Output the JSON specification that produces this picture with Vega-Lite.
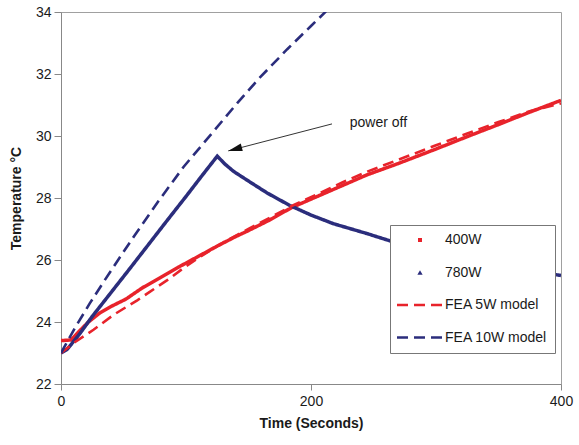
{
  "$schema": "https://vega.github.io/schema/vega-lite/v6.json",
  "width": 500,
  "height": 372,
  "autosize": {"type": "none"},
  "padding": {"left": 61, "top": 12, "right": 18, "bottom": 61},
  "background": "white",
  "config": {
    "font": "Liberation Sans",
    "view": {"stroke": "#a0a0a0", "strokeWidth": 1},
    "axis": {
      "grid": false,
      "domainColor": "#888888",
      "tickColor": "#888888",
      "labelFont": "Liberation Sans",
      "labelFontSize": 14,
      "labelColor": "#1a1a1a",
      "titleFont": "Liberation Sans",
      "titleFontSize": 14,
      "titleFontWeight": "bold",
      "titleColor": "#1a1a1a"
    }
  },
  "datasets": {
    "curves": [
      {"t": 0, "T": 23.40, "s": "400W"},
      {"t": 8, "T": 23.42, "s": "400W"},
      {"t": 15, "T": 23.72, "s": "400W"},
      {"t": 22, "T": 24.00, "s": "400W"},
      {"t": 31, "T": 24.29, "s": "400W"},
      {"t": 41, "T": 24.52, "s": "400W"},
      {"t": 52, "T": 24.74, "s": "400W"},
      {"t": 65, "T": 25.10, "s": "400W"},
      {"t": 79, "T": 25.42, "s": "400W"},
      {"t": 94, "T": 25.77, "s": "400W"},
      {"t": 110, "T": 26.12, "s": "400W"},
      {"t": 125, "T": 26.45, "s": "400W"},
      {"t": 139, "T": 26.74, "s": "400W"},
      {"t": 150, "T": 26.95, "s": "400W"},
      {"t": 165, "T": 27.25, "s": "400W"},
      {"t": 185, "T": 27.70, "s": "400W"},
      {"t": 205, "T": 28.05, "s": "400W"},
      {"t": 225, "T": 28.40, "s": "400W"},
      {"t": 245, "T": 28.75, "s": "400W"},
      {"t": 269, "T": 29.10, "s": "400W"},
      {"t": 300, "T": 29.58, "s": "400W"},
      {"t": 325, "T": 29.98, "s": "400W"},
      {"t": 350, "T": 30.37, "s": "400W"},
      {"t": 375, "T": 30.77, "s": "400W"},
      {"t": 400, "T": 31.15, "s": "400W"},

      {"t": 0, "T": 23.00, "s": "780W"},
      {"t": 5, "T": 23.12, "s": "780W"},
      {"t": 15, "T": 23.62, "s": "780W"},
      {"t": 25, "T": 24.18, "s": "780W"},
      {"t": 40, "T": 24.95, "s": "780W"},
      {"t": 55, "T": 25.72, "s": "780W"},
      {"t": 70, "T": 26.50, "s": "780W"},
      {"t": 85, "T": 27.28, "s": "780W"},
      {"t": 100, "T": 28.05, "s": "780W"},
      {"t": 112, "T": 28.68, "s": "780W"},
      {"t": 125, "T": 29.35, "s": "780W"},
      {"t": 131, "T": 29.10, "s": "780W"},
      {"t": 138, "T": 28.86, "s": "780W"},
      {"t": 151, "T": 28.52, "s": "780W"},
      {"t": 165, "T": 28.16, "s": "780W"},
      {"t": 183, "T": 27.76, "s": "780W"},
      {"t": 200, "T": 27.45, "s": "780W"},
      {"t": 218, "T": 27.17, "s": "780W"},
      {"t": 245, "T": 26.85, "s": "780W"},
      {"t": 263, "T": 26.62, "s": "780W"},
      {"t": 290, "T": 26.35, "s": "780W"},
      {"t": 320, "T": 26.07, "s": "780W"},
      {"t": 350, "T": 25.83, "s": "780W"},
      {"t": 375, "T": 25.66, "s": "780W"},
      {"t": 400, "T": 25.50, "s": "780W"},

      {"t": 0, "T": 23.00, "s": "FEA 5W model"},
      {"t": 10, "T": 23.32, "s": "FEA 5W model"},
      {"t": 26, "T": 23.75, "s": "FEA 5W model"},
      {"t": 42, "T": 24.23, "s": "FEA 5W model"},
      {"t": 61, "T": 24.70, "s": "FEA 5W model"},
      {"t": 71, "T": 24.97, "s": "FEA 5W model"},
      {"t": 85, "T": 25.35, "s": "FEA 5W model"},
      {"t": 100, "T": 25.80, "s": "FEA 5W model"},
      {"t": 115, "T": 26.20, "s": "FEA 5W model"},
      {"t": 130, "T": 26.57, "s": "FEA 5W model"},
      {"t": 150, "T": 27.00, "s": "FEA 5W model"},
      {"t": 185, "T": 27.75, "s": "FEA 5W model"},
      {"t": 205, "T": 28.12, "s": "FEA 5W model"},
      {"t": 225, "T": 28.50, "s": "FEA 5W model"},
      {"t": 245, "T": 28.85, "s": "FEA 5W model"},
      {"t": 269, "T": 29.22, "s": "FEA 5W model"},
      {"t": 300, "T": 29.70, "s": "FEA 5W model"},
      {"t": 325, "T": 30.08, "s": "FEA 5W model"},
      {"t": 350, "T": 30.45, "s": "FEA 5W model"},
      {"t": 375, "T": 30.80, "s": "FEA 5W model"},
      {"t": 400, "T": 31.05, "s": "FEA 5W model"},

      {"t": 0, "T": 23.00, "s": "FEA 10W model"},
      {"t": 11, "T": 23.80, "s": "FEA 10W model"},
      {"t": 23, "T": 24.60, "s": "FEA 10W model"},
      {"t": 35, "T": 25.35, "s": "FEA 10W model"},
      {"t": 47, "T": 26.08, "s": "FEA 10W model"},
      {"t": 59, "T": 26.80, "s": "FEA 10W model"},
      {"t": 78, "T": 27.90, "s": "FEA 10W model"},
      {"t": 98, "T": 29.00, "s": "FEA 10W model"},
      {"t": 121, "T": 30.10, "s": "FEA 10W model"},
      {"t": 141, "T": 31.06, "s": "FEA 10W model"},
      {"t": 159, "T": 31.88, "s": "FEA 10W model"},
      {"t": 181, "T": 32.80, "s": "FEA 10W model"},
      {"t": 200, "T": 33.55, "s": "FEA 10W model"},
      {"t": 212, "T": 34.02, "s": "FEA 10W model"}
    ],
    "note": [
      {"t": 216.8, "T": 30.39, "t2": 133.8, "T2": 29.52, "tx": 231, "Tx": 30.42, "label": "power off"}
    ]
  },
  "layer": [
    {
      "data": {"name": "curves"},
      "transform": [{"filter": "datum.s === '400W' || datum.s === '780W'"}],
      "mark": {"type": "line", "clip": true, "strokeWidth": 3.5},
      "encoding": {
        "x": {
          "field": "t", "type": "quantitative",
          "scale": {"domain": [0, 400], "nice": false},
          "axis": {"values": [0, 200, 400], "title": "Time (Seconds)", "tickSize": 6, "labelPadding": 4, "titlePadding": 8, "labelFlush": false}
        },
        "y": {
          "field": "T", "type": "quantitative",
          "scale": {"domain": [22, 34], "nice": false, "zero": false},
          "axis": {"values": [22, 24, 26, 28, 30, 32, 34], "title": "Temperature °C", "tickSize": 7, "labelPadding": 3, "titlePadding": 12}
        },
        "color": {
          "field": "s", "type": "nominal",
          "scale": {"domain": ["400W", "780W", "FEA 5W model", "FEA 10W model"], "range": ["#e8232b", "#2b2d7c", "#e8232b", "#2b2d7c"]},
          "legend": {
            "title": null,
            "orient": "none",
            "legendX": 329,
            "legendY": 213,
            "fillColor": "white",
            "strokeColor": "#777777",
            "padding": 8,
            "symbolType": "stroke",
            "symbolSize": 2116,
            "symbolStrokeWidth": 2.5,
            "labelFont": "Liberation Sans",
            "labelFontSize": 14,
            "labelColor": "#1a1a1a",
            "labelOffset": 2,
            "rowPadding": 18.5,
            "encode": {
              "symbols": {
                "update": {
                  "x": {"value": 22},
                  "shape": {"signal": "datum.value === '400W' ? 'square' : datum.value === '780W' ? 'triangle-up' : 'stroke'"},
                  "size": {"signal": "datum.value === '400W' ? 16 : datum.value === '780W' ? 28 : 2116"},
                  "fill": {"signal": "datum.value === '400W' ? '#e8232b' : datum.value === '780W' ? '#2b2d7c' : 'transparent'"},
                  "strokeWidth": {"signal": "datum.value === '400W' || datum.value === '780W' ? 0 : 2.5"}
                }
              },
              "labels": {
                "update": {
                  "x": {"value": 47}
                }
              }
            }
          }
        },
        "strokeDash": {
          "field": "s", "type": "nominal",
          "scale": {"domain": ["400W", "780W", "FEA 5W model", "FEA 10W model"], "range": [[1, 0], [1, 0], [11, 6], [11, 6]]}
        }
      }
    },
    {
      "data": {"name": "curves"},
      "transform": [{"filter": "datum.s === 'FEA 5W model' || datum.s === 'FEA 10W model'"}],
      "mark": {"type": "line", "clip": true, "strokeWidth": 2.6},
      "encoding": {
        "x": {"field": "t", "type": "quantitative"},
        "y": {"field": "T", "type": "quantitative"},
        "color": {"field": "s", "type": "nominal"},
        "strokeDash": {"field": "s", "type": "nominal"}
      }
    },
    {
      "data": {"name": "note"},
      "mark": {"type": "rule", "color": "#333333", "strokeWidth": 1},
      "encoding": {
        "x": {"field": "t", "type": "quantitative"},
        "y": {"field": "T", "type": "quantitative"},
        "x2": {"field": "t2"},
        "y2": {"field": "T2"}
      }
    },
    {
      "data": {"name": "note"},
      "mark": {"type": "point", "shape": "M0,0L-0.55,2L0.55,2Z", "size": 196, "angle": 255, "filled": true, "color": "#111111", "opacity": 1, "strokeWidth": 0},
      "encoding": {
        "x": {"field": "t2", "type": "quantitative"},
        "y": {"field": "T2", "type": "quantitative"}
      }
    },
    {
      "data": {"name": "note"},
      "mark": {"type": "text", "align": "left", "baseline": "middle", "font": "Liberation Sans", "fontSize": 14, "color": "#1a1a1a"},
      "encoding": {
        "x": {"field": "tx", "type": "quantitative"},
        "y": {"field": "Tx", "type": "quantitative"},
        "text": {"field": "label"}
      }
    }
  ]
}
